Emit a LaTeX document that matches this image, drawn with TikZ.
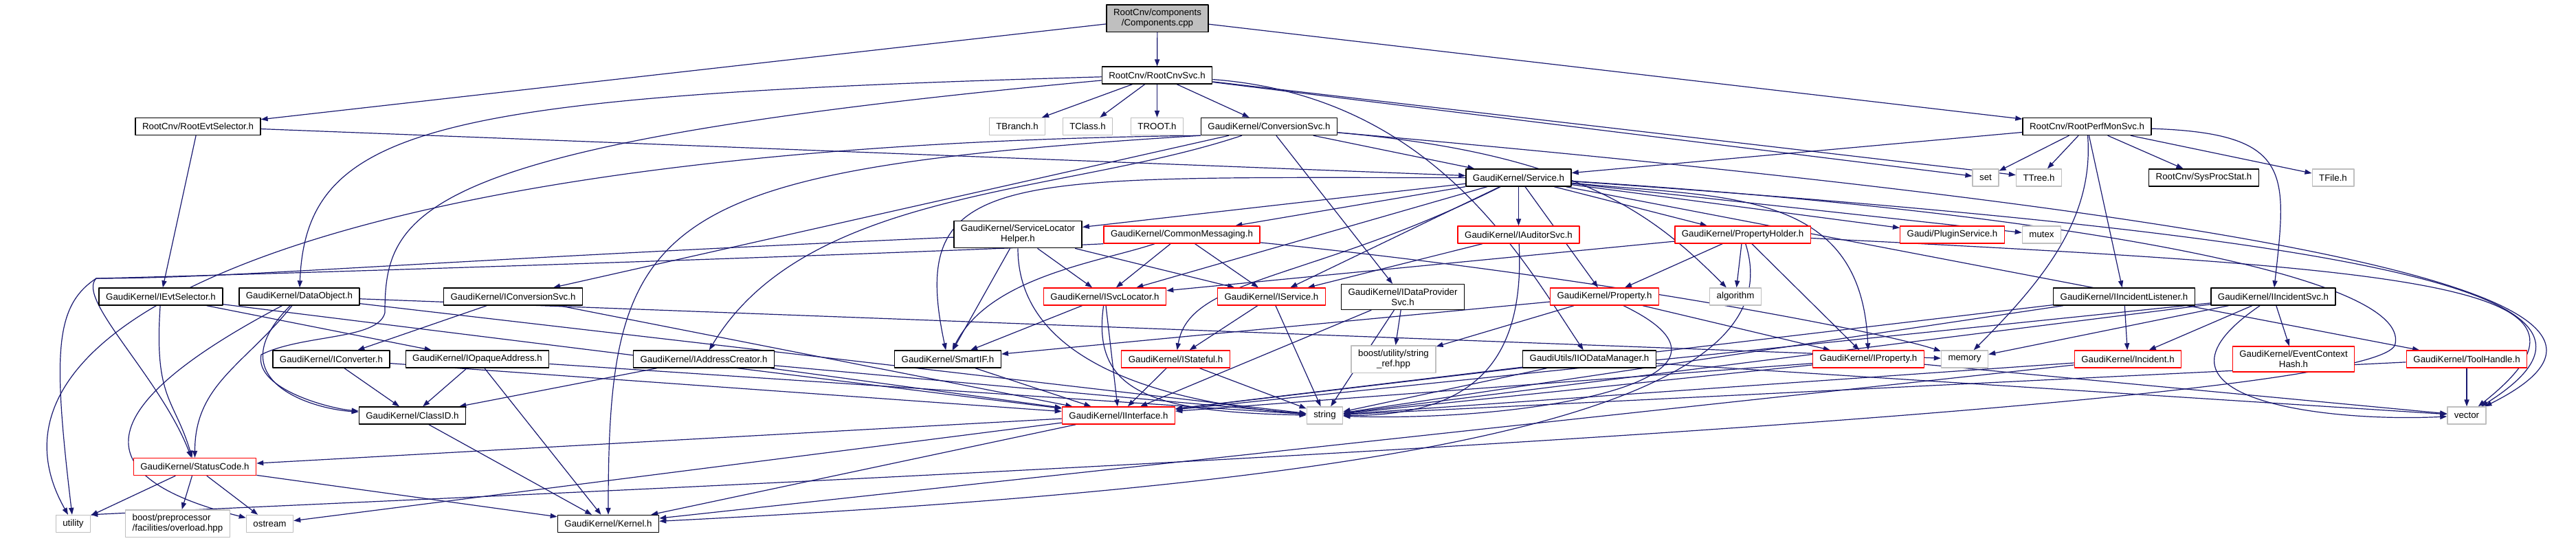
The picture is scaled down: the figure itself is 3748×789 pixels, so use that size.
\documentclass[tikz,border=0pt]{standalone}
\usepackage{fontspec}
\setmainfont{Liberation Sans}
\usetikzlibrary{arrows.meta,backgrounds}
\definecolor{edgeblue}{HTML}{191970}
\definecolor{sysgray}{HTML}{BFBFBF}
\begin{document}
\begin{tikzpicture}[x=0.5pt,y=-0.5pt,line join=round,
  hdr/.style={draw=black,fill=white,line width=0.7pt,inner xsep=5pt,inner ysep=3pt,
    minimum height=12.5pt,align=center,font=\fontsize{6.65pt}{7.5pt}\selectfont},
  hdrred/.style={hdr,draw=red},
  hdrsys/.style={hdr,draw=sysgray},
  hdrroot/.style={hdr,fill=sysgray},
  dep/.style={draw=edgeblue,line width=0.6pt,-{Triangle[length=5pt,width=3.6pt]}}]
\useasboundingbox (0,0) rectangle (3748,789);
\node[hdrroot] (comp) at (1684,26.5) {RootCnv/components\\/Components.cpp};
\node[hdr] (cnvsvc) at (1683.5,109.5) {RootCnv/RootCnvSvc.h};
\node[hdr] (evtsel) at (288,184) {RootCnv/RootEvtSelector.h};
\node[hdrsys] (tbranch) at (1480,184) {TBranch.h};
\node[hdrsys] (tclass) at (1582.5,184) {TClass.h};
\node[hdrsys] (troot) at (1683.5,184) {TROOT.h};
\node[hdr] (convsvc) at (1846.5,184) {GaudiKernel/ConversionSvc.h};
\node[hdr] (perfmon) at (3036.5,184) {RootCnv/RootPerfMonSvc.h};
\node[hdr] (service) at (2209.5,258.5) {GaudiKernel/Service.h};
\node[hdrsys] (set) at (2889,258.5) {set};
\node[hdrsys] (ttree) at (2966.5,258.5) {TTree.h};
\node[hdr] (sysproc) at (3206.5,258.5) {RootCnv/SysProcStat.h};
\node[hdrsys] (tfile) at (3394.5,258.5) {TFile.h};
\node[hdr] (slh) at (1481,341) {GaudiKernel/ServiceLocator\\Helper.h};
\node[hdrred] (cmsg) at (1719.5,341.5) {GaudiKernel/CommonMessaging.h};
\node[hdrred] (auditor) at (2209.5,341.5) {GaudiKernel/IAuditorSvc.h};
\node[hdrred] (propholder) at (2535.5,341.5) {GaudiKernel/PropertyHolder.h};
\node[hdrred] (plugin) at (2840.5,341.5) {Gaudi/PluginService.h};
\node[hdrsys] (mutex) at (2970.5,341.5) {mutex};
\node[hdr] (ievtsel) at (234,431.5) {GaudiKernel/IEvtSelector.h};
\node[hdr] (dataobj) at (435.5,431.5) {GaudiKernel/DataObject.h};
\node[hdr] (iconvsvc) at (746.5,431.5) {GaudiKernel/IConversionSvc.h};
\node[hdrred] (isvcloc) at (1607.5,431.5) {GaudiKernel/ISvcLocator.h};
\node[hdrred] (iservice) at (1850,431.5) {GaudiKernel/IService.h};
\node[hdr] (idataprov) at (2041,432) {GaudiKernel/IDataProvider\\Svc.h};
\node[hdrred] (property) at (2334.5,431.5) {GaudiKernel/Property.h};
\node[hdrsys] (algorithm) at (2525,431.5) {algorithm};
\node[hdr] (iinclist) at (3090.5,431.5) {GaudiKernel/IIncidentListener.h};
\node[hdr] (iincsvc) at (3307.5,431.5) {GaudiKernel/IIncidentSvc.h};
\node[hdr] (iconverter) at (482,522.5) {GaudiKernel/IConverter.h};
\node[hdr] (iopaque) at (694.5,522.5) {GaudiKernel/IOpaqueAddress.h};
\node[hdr] (iaddr) at (1024,522.5) {GaudiKernel/IAddressCreator.h};
\node[hdr] (smartif) at (1379,522.5) {GaudiKernel/SmartIF.h};
\node[hdrred] (istateful) at (1710.5,522.5) {GaudiKernel/IStateful.h};
\node[hdrsys] (strref) at (2027.5,522.5) {boost/utility/string\\\_ref.hpp};
\node[hdr] (iiodm) at (2312.5,522.5) {GaudiUtils/IIODataManager.h};
\node[hdrred] (iproperty) at (2718.5,522.5) {GaudiKernel/IProperty.h};
\node[hdrsys] (memory) at (2858.5,522.5) {memory};
\node[hdrred] (incident) at (3096,522.5) {GaudiKernel/Incident.h};
\node[hdrred] (evctxhash) at (3337,522.5) {GaudiKernel/EventContext\\Hash.h};
\node[hdrred] (toolhandle) at (3589,522.5) {GaudiKernel/ToolHandle.h};
\node[hdr] (classid) at (600,604.5) {GaudiKernel/ClassID.h};
\node[hdrred] (iinterface) at (1627.5,604.5) {GaudiKernel/IInterface.h};
\node[hdrsys] (string) at (1927.5,604.5) {string};
\node[hdrsys] (vector) at (3589,604.5) {vector};
\node[hdrred] (statuscode) at (283.5,679) {GaudiKernel/StatusCode.h};
\node[hdrsys] (utility) at (106.5,762) {utility};
\node[hdrsys,align=left] (overload) at (258.5,761.5) {boost/preprocessor\\/facilities/overload.hpp};
\node[hdrsys] (ostream) at (392.5,762) {ostream};
\node[hdr] (kernel) at (885,762) {GaudiKernel/Kernel.h};
\coordinate (leftbend) at (140,405);
\coordinate (cidbendA) at (560,455);
\coordinate (cidbendB) at (380,516);
\coordinate (loopturn) at (3485,500);
\begin{pgfonlayer}{background}
\foreach \a/\b in {comp/cnvsvc,comp/evtsel,comp/perfmon,
  cnvsvc/tbranch,cnvsvc/tclass,cnvsvc/troot,cnvsvc/convsvc,cnvsvc/set,cnvsvc/ttree,
  evtsel/service,evtsel/ievtsel,
  perfmon/service,perfmon/set,perfmon/ttree,perfmon/sysproc,perfmon/tfile,perfmon/iinclist,
  convsvc/service,convsvc/iconvsvc,convsvc/idataprov,
  service/slh,service/cmsg,service/auditor,service/propholder,service/plugin,service/mutex,
  service/isvcloc,service/iservice,service/property,service/toolhandle,
  slh/isvcloc,slh/iservice,slh/smartif,cmsg/isvcloc,cmsg/iservice,auditor/iservice,
  propholder/property,propholder/algorithm,propholder/iproperty,propholder/isvcloc,
  ievtsel/iopaque,ievtsel/iinterface,dataobj/memory,dataobj/string,
  iconvsvc/iconverter,iconvsvc/iinterface,isvcloc/smartif,isvcloc/iinterface,
  iservice/istateful,iservice/string,idataprov/strref,idataprov/string,idataprov/iinterface,
  property/strref,property/smartif,property/iproperty,
  iinclist/iinterface,iinclist/incident,iinclist/string,
  iincsvc/memory,iincsvc/incident,iincsvc/evctxhash,iincsvc/iinterface,iincsvc/string,
  iconverter/classid,iconverter/iinterface,iopaque/classid,iopaque/kernel,iopaque/string,
  iaddr/classid,iaddr/iinterface,iaddr/string,smartif/iinterface,
  istateful/iinterface,istateful/string,iiodm/iinterface,iiodm/string,iiodm/vector,
  iproperty/iinterface,iproperty/string,iproperty/vector,incident/string,incident/kernel,
  toolhandle/vector,toolhandle/string,classid/kernel,
  iinterface/statuscode,iinterface/kernel,iinterface/ostream,
  statuscode/utility,statuscode/overload,statuscode/ostream,statuscode/kernel}
\draw[dep] (\a) -- (\b);
\foreach \a/\b/\p/\q/\r/\s in {cnvsvc/dataobj/-1050/30/10/-250,cnvsvc/iiodm/400/30/-100/-150,
  convsvc.south west/utility/-1250/15/-170/-300,convsvc.south west/kernel/-800/50/0/-450,
  convsvc/algorithm/450/40/-120/-120,convsvc/iaddr/-300/100/150/-250,
  convsvc/vector/1700/150/300/-150,service/vector/1300/90/270/-170,
  service/smartif/-750/0/-60/-280,service/istateful/-300/150/20/-120,
  service/iproperty/300/30/-10/-250,propholder/vector/1000/50/240/-190,
  propholder/kernel/80/250/1200/-60,slh/string/0/180/-250/-20,
  cmsg/smartif/-120/40/60/-120,cmsg/memory/600/60/-120/-40,
  ievtsel/statuscode/-10/150/-30/-100,dataobj/statuscode/-80/100/0/-120,
  dataobj/ostream/-380/200/-200/-50,dataobj/classid/-120/120/-150/-10,
  isvcloc/string/-20/140/-250/-5,auditor/string/10/200/200/0,
  property/string/250/120/300/10,perfmon/iincsvc/300/10/20/-180,
  perfmon/memory/10/130/120/-120,iincsvc/vector/-220/150/-200/10}
\draw[dep] (\a) .. controls +(\p,\q) and +(\r,\s) .. (\b);
\draw[dep] (slh) .. controls +(-900,40) and +(200,0) .. (leftbend)
  .. controls +(-30,30) and +(-50,-130) .. (statuscode);
\draw[dep] (cmsg.south west) .. controls +(-300,15) and +(220,-5) .. (leftbend)
  .. controls +(-60,40) and +(-30,-250) .. (utility);
\draw[dep] (cnvsvc) .. controls +(-1080,100) and +(0,-150) .. (cidbendA)
  .. controls +(-10,40) and +(60,-30) .. (cidbendB)
  .. controls +(-10,50) and +(-120,-10) .. (classid);
\draw[dep] (service) .. controls +(780,50) and +(20,-100) .. (loopturn)
  .. controls +(-10,110) and +(500,-25) .. (utility.north east);
\end{pgfonlayer}
\end{tikzpicture}
\end{document}
